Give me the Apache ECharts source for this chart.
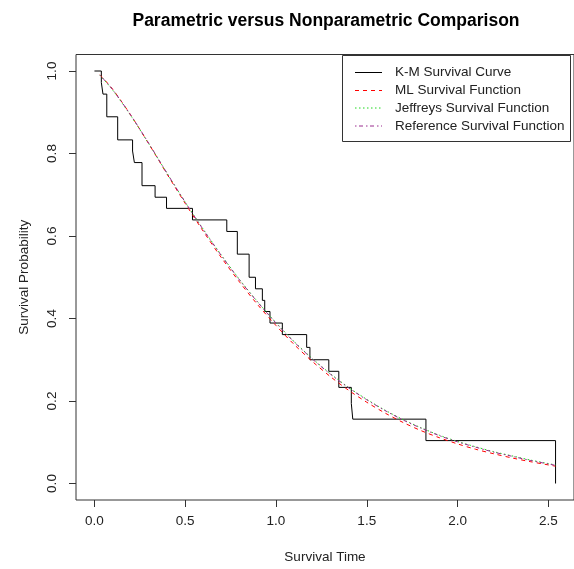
<!DOCTYPE html>
<html>
<head>
<meta charset="utf-8">
<script src="https://cdn.jsdelivr.net/npm/echarts@6/dist/echarts.min.js"></script>
<style>
html,body{margin:0;padding:0;background:#fff;}
#chart{width:574px;height:569px;}
</style>
</head>
<body>
<div id="chart"></div>
<script>
// Kaplan-Meier step curve (time of drop, survival after drop)
const kmTime = [0, 0.038, 0.047, 0.068, 0.128, 0.210, 0.220, 0.262, 0.334, 0.397, 0.540, 0.729, 0.787, 0.852, 0.887, 0.925, 0.938, 0.967, 1.035, 1.169, 1.187, 1.291, 1.346, 1.415, 1.423, 1.826, 2.540];
const kmSurv = [1, 0.972, 0.944, 0.889, 0.833, 0.806, 0.778, 0.722, 0.694, 0.667, 0.639, 0.611, 0.556, 0.5, 0.472, 0.444, 0.417, 0.389, 0.361, 0.330, 0.300, 0.272, 0.233, 0.194, 0.156, 0.104, 0];

// Parametric survival functions
const curveTime = [0.03, 0.1, 0.2, 0.3, 0.4, 0.5, 0.6, 0.7, 0.8, 0.9, 1.0, 1.1, 1.2, 1.3, 1.4, 1.5, 1.6, 1.7, 1.8, 1.9, 2.0, 2.1, 2.2, 2.3, 2.4, 2.54];
const mlSurv  = [0.991, 0.956, 0.893, 0.823, 0.750, 0.679, 0.611, 0.547, 0.488, 0.433, 0.383, 0.337, 0.296, 0.259, 0.226, 0.197, 0.171, 0.148, 0.128, 0.111, 0.096, 0.083, 0.072, 0.062, 0.053, 0.042];
const jefSurv = [0.990, 0.954, 0.892, 0.823, 0.752, 0.682, 0.616, 0.553, 0.494, 0.440, 0.390, 0.344, 0.303, 0.266, 0.233, 0.204, 0.178, 0.155, 0.135, 0.117, 0.102, 0.089, 0.077, 0.067, 0.057, 0.045];
const refSurv = [0.990, 0.955, 0.893, 0.824, 0.752, 0.682, 0.615, 0.552, 0.493, 0.439, 0.389, 0.343, 0.302, 0.265, 0.232, 0.203, 0.177, 0.154, 0.134, 0.116, 0.101, 0.088, 0.076, 0.066, 0.056, 0.044];

const seriesNames = ["K-M Survival Curve", "ML Survival Function", "Jeffreys Survival Function", "Reference Survival Function"];
const xTicks = [0, 0.5, 1.0, 1.5, 2.0, 2.5];
const yTicks = [0, 0.2, 0.4, 0.6, 0.8, 1.0];
const titleText = "Parametric versus Nonparametric Comparison";
const xName = "Survival Time";
const yName = "Survival Probability";

const FONT = "'Liberation Sans', Arial, sans-serif";
const colors = ["#000000", "#FF0000", "#1ED81E", "#9A2C8E"];
const dashes = ["solid", [4, 4], [1.5, 2.5], [1.5, 2.5, 4, 3]];

const zip = (a, b) => a.map((v, i) => [v, b[i]]);

const chart = echarts.init(document.getElementById('chart'), null, {renderer: 'canvas'});

const legendX = 342.5, legendY = 55.5, legendW = 228, legendH = 86;
const rowY = [72.5, 90.5, 108, 126];
const legendGraphics = [{
  type: 'rect', shape: {x: legendX, y: legendY, width: legendW, height: legendH},
  style: {fill: '#fff', stroke: '#333', lineWidth: 1}, z: 100
}];
seriesNames.forEach((name, i) => {
  legendGraphics.push({
    type: 'line', shape: {x1: 355, y1: rowY[i], x2: 382, y2: rowY[i]},
    style: {stroke: colors[i], lineWidth: 1, lineDash: dashes[i] === 'solid' ? null : dashes[i]}, z: 101
  });
  legendGraphics.push({
    type: 'text', x: 395, y: rowY[i],
    style: {text: name, fill: '#222', font: '13.5px ' + FONT, textVerticalAlign: 'middle', textAlign: 'left'}, z: 101
  });
});

const option = {
  animation: false,
  backgroundColor: '#fff',
  grid: {left: 76, top: 54.5, width: 500, height: 446.5, show: true, borderColor: '#333', borderWidth: 1, backgroundColor: 'transparent'},
  xAxis: {
    type: 'value', min: -0.1016, max: 2.6416,
    axisLine: {show: false, onZero: false},
    splitLine: {show: false},
    axisTick: {show: true, length: 7, inside: false, customValues: xTicks, lineStyle: {color: '#333'}},
    axisLabel: {customValues: xTicks, formatter: v => v.toFixed(1), color: '#222', fontSize: 13.5, fontFamily: FONT, margin: 14},
    name: xName, nameLocation: 'middle', nameGap: 50,
    nameTextStyle: {color: '#222', fontSize: 13.5, fontFamily: FONT}
  },
  yAxis: {
    type: 'value', min: -0.04, max: 1.04,
    axisLine: {show: false, onZero: false},
    splitLine: {show: false},
    axisTick: {show: true, length: 7, inside: false, customValues: yTicks, lineStyle: {color: '#333'}},
    axisLabel: {customValues: yTicks, formatter: v => v.toFixed(1), rotate: 90, color: '#222', fontSize: 13.5, fontFamily: FONT, margin: 17},
    name: yName, nameLocation: 'middle', nameGap: 45, nameRotate: 90,
    nameTextStyle: {color: '#222', fontSize: 13.5, fontFamily: FONT}
  },
  series: [
    {name: seriesNames[0], type: 'line', step: 'end', data: zip(kmTime, kmSurv), showSymbol: false,
     lineStyle: {color: colors[0], width: 1, type: dashes[0]}, z: 5},
    {name: seriesNames[1], type: 'line', smooth: 0.3, data: zip(curveTime, mlSurv), showSymbol: false,
     lineStyle: {color: colors[1], width: 1, type: dashes[1]}, z: 6},
    {name: seriesNames[2], type: 'line', smooth: 0.3, data: zip(curveTime, jefSurv), showSymbol: false,
     lineStyle: {color: colors[2], width: 1, type: dashes[2]}, z: 7},
    {name: seriesNames[3], type: 'line', smooth: 0.3, data: zip(curveTime, refSurv), showSymbol: false,
     lineStyle: {color: colors[3], width: 1, type: dashes[3]}, z: 8}
  ],
  graphic: [
    {type: 'text', x: 326, y: 21,
     style: {text: titleText, fill: '#000', font: 'bold 17.5px ' + FONT, textAlign: 'center', textVerticalAlign: 'middle'}},
    ...legendGraphics
  ]
};
chart.setOption(option);
</script>
</body>
</html>
